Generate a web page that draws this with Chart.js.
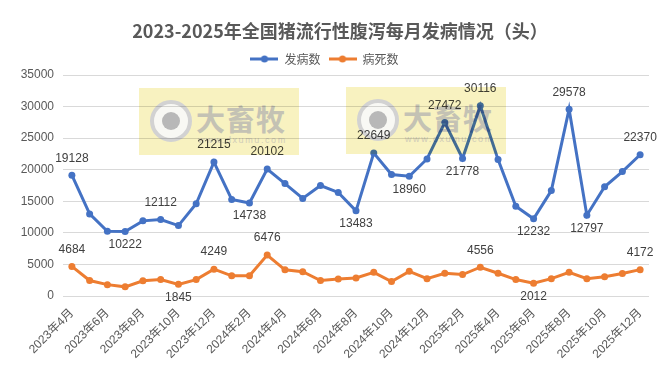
<!DOCTYPE html>
<html>
<head>
<meta charset="utf-8">
<script src="https://cdn.jsdelivr.net/npm/chart.js@4.4.1/dist/chart.umd.min.js"></script>
<style>
  html, body { margin: 0; padding: 0; background: #fff; overflow: hidden; }
  .wrap { position: relative; width: 668px; height: 365px; overflow: hidden; background: #fff; }
  .title {
    position: absolute; left: 6px; top: 17px; width: 668px; height: 18px;
    line-height: 18px; text-align: center; white-space: nowrap;
    font: bold 18px "Noto Sans CJK SC", sans-serif; color: #595959;
  }
  .mark {
    position: absolute; width: 160px; height: 67px;
    background: rgb(248, 242, 192);
    mix-blend-mode: multiply;
    pointer-events: none;
  }
  .mark .logo {
    position: absolute; left: 11px; top: 12px; width: 42px; height: 42px;
    border-radius: 50%; border: 4px solid #d2d2d2;
    box-sizing: border-box; background: #f8f8f4;
  }
  .mark .logo::after {
    content: ""; position: absolute; left: 8px; top: 8px; width: 18px; height: 18px;
    border-radius: 50%; background: #b8b8b8;
  }
  .mark .name {
    position: absolute; left: 57px; top: 9px; line-height: 29px;
    font: bold 29px "Noto Sans CJK SC", sans-serif; color: #c4c2b4;
    letter-spacing: 1px;
  }
  .mark .url {
    position: absolute; left: 59px; top: 47px; line-height: 10px;
    font: 9px "Liberation Sans", sans-serif; color: #d0ccb8;
    letter-spacing: 1.6px;
  }
</style>
</head>
<body>
<div class="wrap">
  <canvas id="chart" width="668" height="365"></canvas>
  <div class="title">2023-2025年全国猪流行性腹泻每月发病情况（头）</div>
  <div class="mark" style="left:139px;top:88px;"><div class="logo"></div><div class="name">大畜牧</div><div class="url">www.dxumu.com</div></div>
  <div class="mark" style="left:346px;top:87px;"><div class="logo"></div><div class="name">大畜牧</div><div class="url">www.dxumu.com</div></div>
</div>
<script>
(function () {
  const months = [
    "2023年4月", "2023年5月", "2023年6月", "2023年7月", "2023年8月", "2023年9月",
    "2023年10月", "2023年11月", "2023年12月", "2024年1月", "2024年2月", "2024年3月",
    "2024年4月", "2024年5月", "2024年6月", "2024年7月", "2024年8月", "2024年9月",
    "2024年10月", "2024年11月", "2024年12月", "2025年1月", "2025年2月", "2025年3月",
    "2025年4月", "2025年5月", "2025年6月", "2025年7月", "2025年8月", "2025年9月",
    "2025年10月", "2025年11月", "2025年12月"
  ];

  const cases = [
    19128, 13000, 10250, 10222, 11900, 12112, 11150, 14600, 21215, 15300, 14738,
    20102, 17800, 15450, 17500, 16400, 13483, 22649, 19250, 18960, 21700, 27472,
    21778, 30116, 21600, 14200, 12232, 16700, 29578, 12797, 17300, 19700, 22370
  ];

  const deaths = [
    4684, 2450, 1800, 1450, 2400, 2600, 1845, 2600, 4249, 3200, 3200,
    6476, 4150, 3850, 2450, 2700, 2850, 3750, 2300, 3900, 2750, 3600,
    3400, 4556, 3600, 2600, 2012, 2750, 3750, 2750, 3050, 3550, 4172
  ];

  // indices that carry a value label, above or below the point
  const casesLabelAbove = [0, 5, 8, 11, 17, 21, 23, 28, 32];
  const casesLabelBelow = [3, 10, 16, 19, 22, 26, 29];
  const deathsLabelAbove = [0, 8, 11, 23, 32];
  const deathsLabelBelow = [6, 26];

  const yTicks = [0, 5000, 10000, 15000, 20000, 25000, 30000, 35000];

  const blue = "#4472C4";
  const orange = "#ED7D31";
  const textColor = "#595959";
  const numFont = "'Liberation Sans', 'Noto Sans CJK SC', sans-serif";

  function legendIcon(color) {
    const c = document.createElement("canvas");
    c.width = 28; c.height = 8;
    const g = c.getContext("2d");
    g.strokeStyle = color; g.lineWidth = 3;
    g.beginPath(); g.moveTo(0, 4); g.lineTo(28, 4); g.stroke();
    g.fillStyle = color;
    g.beginPath(); g.arc(14, 4, 3.5, 0, Math.PI * 2); g.fill();
    return c;
  }

  const valueLabels = {
    id: "valueLabels",
    afterDatasetsDraw(chart) {
      const ctx = chart.ctx;
      ctx.save();
      ctx.font = "12px " + numFont;
      ctx.fillStyle = "#404040";
      ctx.textAlign = "center";
      ctx.textBaseline = "middle";
      chart.data.datasets.forEach(function (ds, i) {
        const meta = chart.getDatasetMeta(i);
        ds.labelAbove.forEach(function (idx) {
          const p = meta.data[idx];
          ctx.fillText(ds.data[idx], p.x, p.y - 17);
        });
        ds.labelBelow.forEach(function (idx) {
          const p = meta.data[idx];
          ctx.fillText(ds.data[idx], p.x, p.y + 13);
        });
      });
      ctx.restore();
    }
  };

  function series(label, data, color, above, below) {
    return {
      label: label,
      data: data,
      borderColor: color,
      backgroundColor: color,
      borderWidth: 3,
      pointRadius: 3.5,
      pointHoverRadius: 4,
      pointBorderWidth: 0,
      tension: 0,
      labelAbove: above,
      labelBelow: below,
      icon: legendIcon(color)
    };
  }

  new Chart(document.getElementById("chart").getContext("2d"), {
    type: "line",
    data: {
      labels: months,
      datasets: [
        series("发病数", cases, blue, casesLabelAbove, casesLabelBelow),
        series("病死数", deaths, orange, deathsLabelAbove, deathsLabelBelow)
      ]
    },
    options: {
      responsive: false,
      animation: false,
      layout: { padding: { left: 0, right: 19, top: 45, bottom: 0 } },
      plugins: {
        title: { display: false },
        legend: {
          display: true,
          labels: {
            color: textColor,
            font: { family: "'Noto Sans CJK SC', sans-serif", size: 12 },
            usePointStyle: true,
            pointStyleWidth: 28,
            boxHeight: 8,
            padding: 8,
            generateLabels: function (chart) {
              return chart.data.datasets.map(function (ds, i) {
                return {
                  text: ds.label,
                  fillStyle: ds.borderColor,
                  strokeStyle: ds.borderColor,
                  lineWidth: 0,
                  pointStyle: ds.icon,
                  fontColor: textColor,
                  datasetIndex: i
                };
              });
            }
          }
        },
        tooltip: { enabled: false }
      },
      scales: {
        x: {
          offset: true,
          grid: { display: false },
          border: { display: false },
          afterFit: function (scale) { scale.height = 69; },
          ticks: {
            autoSkip: false,
            maxRotation: 45,
            minRotation: 45,
            color: textColor,
            padding: 2,
            font: { family: numFont, size: 12 },
            callback: function (value, index) {
              return index % 2 === 0 ? months[index] : null;
            }
          }
        },
        y: {
          min: 0,
          max: 35000,
          afterFit: function (scale) { scale.width = 63; },
          afterBuildTicks: function (scale) {
            scale.ticks = yTicks.map(function (v) { return { value: v }; });
          },
          grid: { color: "#D9D9D9", drawTicks: false, lineWidth: 1 },
          border: { display: false },
          ticks: {
            color: textColor,
            padding: 9,
            font: { family: numFont, size: 12 },
            callback: function (v) { return String(v); }
          }
        }
      }
    },
    plugins: [valueLabels]
  });
})();
</script>
</body>
</html>
